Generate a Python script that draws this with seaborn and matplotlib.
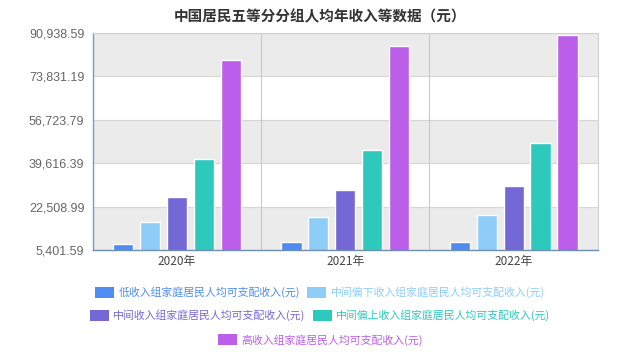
import pandas as pd
import matplotlib
matplotlib.use('Agg')
import matplotlib.pyplot as plt
import seaborn as sns

# data (yuan per person)
years = ['2020年', '2021年', '2022年']
groups = ['低收入组家庭居民人均可支配收入(元)', '中间偏下收入组家庭居民人均可支配收入(元)',
          '中间收入组家庭居民人均可支配收入(元)', '中间偏上收入组家庭居民人均可支配收入(元)',
          '高收入组家庭居民人均可支配收入(元)']
low = [7869, 8333, 8601]
lower_mid = [16443, 18445, 19303]
middle = [26249, 29053, 30598]
upper_mid = [41172, 44949, 47397]
high = [80294, 85836, 90116]
yticks = [5401.59, 22508.99, 39616.39, 56723.79, 73831.19, 90938.59]

colors = ['#4e8cf2', '#8dcdf7', '#7467d6', '#2ec9bd', '#bb5ee9']

rows = []
for g, vals in zip(groups, [low, lower_mid, middle, upper_mid, high]):
    for y, v in zip(years, vals):
        rows.append({'year': y, 'group': g, 'value': v})
df = pd.DataFrame(rows)

sns.set_style('white')
plt.rcParams['font.family'] = ['Liberation Sans', 'Noto Sans CJK SC', 'DejaVu Sans']

fig = plt.figure(figsize=(6.4, 3.54), dpi=100)
ax = fig.add_axes([0.145, 0.294, 0.789, 0.613])

# alternating background bands
for i in range(len(yticks) - 1):
    if i % 2 == 0:
        ax.axhspan(yticks[i], yticks[i + 1], color='#ebebeb', zorder=0, lw=0)
for t in yticks:
    ax.axhline(t, color='#d6d6d6', lw=0.8, zorder=0.5)
for x in [0.5, 1.5]:
    ax.axvline(x, color='#c8c8c8', lw=0.8, zorder=0.5)

sns.barplot(data=df, x='year', y='value', hue='group', hue_order=groups,
            palette=colors, width=0.8, gap=0.25, ax=ax, legend=True,
            saturation=1, zorder=2)

ax.set_ylim(yticks[0], yticks[-1])
ax.set_xlim(-0.5, 2.5)
ax.set_yticks(yticks)
ax.set_yticklabels([f'{t:,.2f}' for t in yticks])
ax.set_xlabel('')
ax.set_ylabel('')
ax.tick_params(axis='y', length=0, labelsize=9, labelcolor='#666666', pad=6)
ax.tick_params(axis='x', length=0, labelsize=8.5, labelcolor='#444444', pad=4)
ax.set_xticks([-0.5, 0.5, 1.5, 2.5], minor=True)
ax.tick_params(axis='x', which='minor', length=4, color='#6f8fb0', direction='out')
for lab in ax.get_xticklabels():
    lab.set_family(['Noto Sans CJK SC'])

for side in ['top', 'right']:
    ax.spines[side].set_color('#d0d0d0')
    ax.spines[side].set_linewidth(0.8)
ax.spines['left'].set_color('#6f9fc8')
ax.spines['bottom'].set_color('#6f8fb0')
ax.spines['left'].set_linewidth(1.0)
ax.spines['bottom'].set_linewidth(1.0)

fig.suptitle('中国居民五等分分组人均年收入等数据（元）', fontsize=10.5, fontweight='bold',
             color='#333333', y=0.975, family=['Noto Sans CJK SC'])

# legend in three centred rows
handles, labels = ax.get_legend_handles_labels()
ax.get_legend().remove()
rows_idx = [[0, 1], [2, 3], [4]]
row_y = [0.175, 0.110, 0.040]
for idx, yy in zip(rows_idx, row_y):
    leg = fig.legend([handles[i] for i in idx], [labels[i] for i in idx],
                     loc='center', bbox_to_anchor=(0.5, yy), ncol=len(idx),
                     frameon=False, prop={'family': ['Noto Sans CJK SC'], 'size': 7.8},
                     handlelength=1.75, handleheight=1.2,
                     columnspacing=0.7, handletextpad=0.4,
                     labelcolor=[colors[i] for i in idx])
    for h in leg.legend_handles:
        h.set_linewidth(0)

fig.savefig('out.png', dpi=100)
